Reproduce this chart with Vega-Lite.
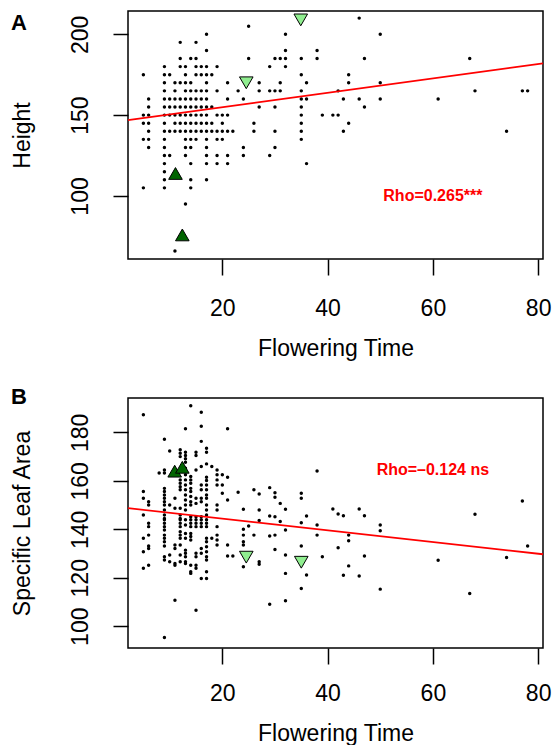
{
  "$schema": "https://vega.github.io/schema/vega-lite/v6.json",
  "padding": {"left": 10, "top": 10, "right": 0, "bottom": 0},
  "config": {
    "font": "Liberation Sans",
    "view": {"stroke": "black", "strokeWidth": 1.5},
    "axis": {"labelColor": "black", "titleColor": "black", "tickColor": "black", "titleFontWeight": "normal", "grid": false, "domain": false, "tickWidth": 1.5, "labelFlush": false, "labelFontSize": 23, "titleFontSize": 23}
  },
  "datasets": {
    "ptsA": [
      {"ft":25,"h":205},
      {"ft":17,"h":200},{"ft":32,"h":200},
      {"ft":12,"h":195},{"ft":15,"h":195},
      {"ft":17,"h":190},{"ft":32,"h":190},{"ft":38,"h":190},
      {"ft":12,"h":185},{"ft":14,"h":185},{"ft":15,"h":185},{"ft":25,"h":185},{"ft":30,"h":185},{"ft":31,"h":185},{"ft":32,"h":185},{"ft":35,"h":185},{"ft":38,"h":185},
      {"ft":9,"h":180},{"ft":12,"h":180},{"ft":13,"h":180},{"ft":15,"h":180},{"ft":16,"h":180},{"ft":17,"h":180},{"ft":19,"h":180},{"ft":29,"h":180},{"ft":32,"h":180},
      {"ft":5,"h":175},{"ft":9,"h":175},{"ft":10,"h":175},{"ft":13,"h":175},{"ft":15,"h":175},{"ft":16,"h":175},{"ft":17,"h":175},{"ft":18,"h":175},{"ft":35,"h":175},
      {"ft":9,"h":170},{"ft":11,"h":170},{"ft":12,"h":170},{"ft":13,"h":170},{"ft":14,"h":170},{"ft":17,"h":170},{"ft":21,"h":170},{"ft":27,"h":170},{"ft":31,"h":170},{"ft":36,"h":170},
      {"ft":9,"h":165},{"ft":11,"h":165},{"ft":13,"h":165},{"ft":14,"h":165},{"ft":15,"h":165},{"ft":16,"h":165},{"ft":17,"h":165},{"ft":19,"h":165},{"ft":23,"h":165},{"ft":27,"h":165},{"ft":29,"h":165},{"ft":30,"h":165},{"ft":31,"h":165},{"ft":35,"h":165},
      {"ft":6,"h":160},{"ft":9,"h":160},{"ft":10,"h":160},{"ft":11,"h":160},{"ft":12,"h":160},{"ft":13,"h":160},{"ft":14,"h":160},{"ft":15,"h":160},{"ft":16,"h":160},{"ft":17,"h":160},{"ft":21,"h":160},{"ft":24,"h":160},{"ft":35,"h":160},{"ft":36,"h":160},
      {"ft":6,"h":155},{"ft":9,"h":155},{"ft":10,"h":155},{"ft":11,"h":155},{"ft":12,"h":155},{"ft":13,"h":155},{"ft":14,"h":155},{"ft":15,"h":155},{"ft":16,"h":155},{"ft":17,"h":155},{"ft":18,"h":155},{"ft":27,"h":155},{"ft":30,"h":155},{"ft":35,"h":155},
      {"ft":5,"h":150},{"ft":6,"h":150},{"ft":9,"h":150},{"ft":10,"h":150},{"ft":11,"h":150},{"ft":12,"h":150},{"ft":13,"h":150},{"ft":14,"h":150},{"ft":15,"h":150},{"ft":16,"h":150},{"ft":17,"h":150},{"ft":19,"h":150},{"ft":20,"h":150},{"ft":21,"h":150},{"ft":35,"h":150},{"ft":39,"h":150},
      {"ft":5,"h":145},{"ft":6,"h":145},{"ft":9,"h":145},{"ft":11,"h":145},{"ft":12,"h":145},{"ft":13,"h":145},{"ft":14,"h":145},{"ft":15,"h":145},{"ft":16,"h":145},{"ft":17,"h":145},{"ft":18,"h":145},{"ft":20,"h":145},{"ft":26,"h":145},{"ft":35,"h":145},
      {"ft":6,"h":140},{"ft":9,"h":140},{"ft":10,"h":140},{"ft":11,"h":140},{"ft":12,"h":140},{"ft":13,"h":140},{"ft":14,"h":140},{"ft":15,"h":140},{"ft":16,"h":140},{"ft":17,"h":140},{"ft":18,"h":140},{"ft":19,"h":140},{"ft":20,"h":140},{"ft":21,"h":140},{"ft":22,"h":140},{"ft":26,"h":140},{"ft":30,"h":140},{"ft":35,"h":140},
      {"ft":5,"h":135},{"ft":6,"h":135},{"ft":9,"h":135},{"ft":13,"h":135},{"ft":14,"h":135},{"ft":15,"h":135},{"ft":17,"h":135},{"ft":19,"h":135},{"ft":20,"h":135},{"ft":35,"h":135},
      {"ft":6,"h":130},{"ft":9,"h":130},{"ft":13,"h":130},{"ft":14,"h":130},{"ft":17,"h":130},{"ft":24,"h":130},{"ft":30,"h":130},
      {"ft":9,"h":125},{"ft":10,"h":125},{"ft":13,"h":125},{"ft":17,"h":125},{"ft":19,"h":125},{"ft":21,"h":125},{"ft":24,"h":125},{"ft":29,"h":125},
      {"ft":9,"h":120},{"ft":14,"h":120},{"ft":17,"h":120},{"ft":19,"h":120},{"ft":21,"h":120},{"ft":36,"h":120},
      {"ft":9,"h":115},
      {"ft":9,"h":110},{"ft":14,"h":110},{"ft":17,"h":110},
      {"ft":5,"h":105},{"ft":9,"h":105},{"ft":14,"h":105},
      {"ft":13,"h":95},
      {"ft":11,"h":66},
      {"ft":46,"h":210},{"ft":50,"h":200},{"ft":47,"h":185},{"ft":67,"h":185},{"ft":44,"h":175},{"ft":44,"h":170},{"ft":50,"h":170},{"ft":42,"h":165},{"ft":68,"h":165},{"ft":77,"h":165},{"ft":78,"h":165},{"ft":43,"h":160},{"ft":46,"h":160},{"ft":50,"h":160},{"ft":61,"h":160},{"ft":47,"h":155},{"ft":41,"h":150},{"ft":42,"h":150},{"ft":44,"h":145},{"ft":43,"h":140},{"ft":74,"h":140}
    ],
    "ptsB": [
      {"ft":5,"sla":187.3},{"ft":5,"sla":155.6},{"ft":5,"sla":152.8},{"ft":5,"sla":145.9},{"ft":5,"sla":136.3},{"ft":5,"sla":130.7},{"ft":5,"sla":123.9},
      {"ft":6,"sla":151.4},{"ft":6,"sla":150.0},{"ft":6,"sla":142.5},{"ft":6,"sla":141.1},{"ft":6,"sla":137.6},{"ft":6,"sla":133.1},{"ft":6,"sla":132.1},{"ft":6,"sla":125.2},
      {"ft":8,"sla":163.2},
      {"ft":9,"sla":177.2},{"ft":9,"sla":164.5},{"ft":9,"sla":163.2},{"ft":9,"sla":156.9},{"ft":9,"sla":155.6},{"ft":9,"sla":154.2},{"ft":9,"sla":152.8},{"ft":9,"sla":151.4},{"ft":9,"sla":150.0},{"ft":9,"sla":148.0},{"ft":9,"sla":145.9},{"ft":9,"sla":144.5},{"ft":9,"sla":143.9},{"ft":9,"sla":142.5},{"ft":9,"sla":141.1},{"ft":9,"sla":139.7},{"ft":9,"sla":137.6},{"ft":9,"sla":136.3},{"ft":9,"sla":134.9},{"ft":9,"sla":133.1},{"ft":9,"sla":128.7},{"ft":9,"sla":127.3},{"ft":9,"sla":95.3},
      {"ft":10,"sla":172.3},{"ft":10,"sla":150.0},{"ft":10,"sla":129.4},{"ft":10,"sla":126.6},
      {"ft":11,"sla":152.8},{"ft":11,"sla":148.7},{"ft":11,"sla":133.5},{"ft":11,"sla":132.1},{"ft":11,"sla":125.9},{"ft":11,"sla":125.2},{"ft":11,"sla":110.7},
      {"ft":12,"sla":172.8},{"ft":12,"sla":171.4},{"ft":12,"sla":170.0},{"ft":12,"sla":160.4},{"ft":12,"sla":159.0},{"ft":12,"sla":157.6},{"ft":12,"sla":156.3},{"ft":12,"sla":148.7},{"ft":12,"sla":145.9},{"ft":12,"sla":144.5},{"ft":12,"sla":143.9},{"ft":12,"sla":142.5},{"ft":12,"sla":141.1},{"ft":12,"sla":139.0},{"ft":12,"sla":137.6},{"ft":12,"sla":136.3},{"ft":12,"sla":133.5},{"ft":12,"sla":129.4},{"ft":12,"sla":126.6},
      {"ft":13,"sla":181.5},{"ft":13,"sla":171.8},{"ft":13,"sla":170.5},{"ft":13,"sla":169.1},{"ft":13,"sla":167.7},{"ft":13,"sla":165.2},{"ft":13,"sla":162.5},{"ft":13,"sla":160.4},{"ft":13,"sla":158.3},{"ft":13,"sla":156.3},{"ft":13,"sla":154.2},{"ft":13,"sla":152.1},{"ft":13,"sla":150.0},{"ft":13,"sla":148.0},{"ft":13,"sla":143.9},{"ft":13,"sla":141.8},{"ft":13,"sla":138.3},{"ft":13,"sla":136.3},{"ft":13,"sla":131.4},{"ft":13,"sla":130.1},{"ft":13,"sla":128.7},{"ft":13,"sla":126.6},{"ft":13,"sla":125.9},
      {"ft":14,"sla":191.0},{"ft":14,"sla":161.8},{"ft":14,"sla":160.4},{"ft":14,"sla":159.0},{"ft":14,"sla":156.9},{"ft":14,"sla":155.6},{"ft":14,"sla":153.5},{"ft":14,"sla":151.4},{"ft":14,"sla":150.0},{"ft":14,"sla":145.2},{"ft":14,"sla":143.9},{"ft":14,"sla":142.5},{"ft":14,"sla":141.1},{"ft":14,"sla":138.3},{"ft":14,"sla":137.0},{"ft":14,"sla":135.6},{"ft":14,"sla":125.2},{"ft":14,"sla":122.5},{"ft":14,"sla":121.8},
      {"ft":15,"sla":171.8},{"ft":15,"sla":170.5},{"ft":15,"sla":164.5},{"ft":15,"sla":152.8},{"ft":15,"sla":150.7},{"ft":15,"sla":145.2},{"ft":15,"sla":143.9},{"ft":15,"sla":142.5},{"ft":15,"sla":141.1},{"ft":15,"sla":130.1},{"ft":15,"sla":128.7},{"ft":15,"sla":125.2},{"ft":15,"sla":123.9},{"ft":15,"sla":106.6},
      {"ft":16,"sla":188.3},{"ft":16,"sla":182.5},{"ft":16,"sla":176.3},{"ft":16,"sla":165.9},{"ft":16,"sla":158.3},{"ft":16,"sla":156.3},{"ft":16,"sla":152.8},{"ft":16,"sla":151.4},{"ft":16,"sla":145.2},{"ft":16,"sla":143.9},{"ft":16,"sla":142.5},{"ft":16,"sla":141.1},{"ft":16,"sla":132.1},{"ft":16,"sla":130.1},{"ft":16,"sla":119.7},
      {"ft":17,"sla":173.5},{"ft":17,"sla":171.8},{"ft":17,"sla":167.0},{"ft":17,"sla":161.5},{"ft":17,"sla":160.1},{"ft":17,"sla":158.3},{"ft":17,"sla":156.3},{"ft":17,"sla":154.2},{"ft":17,"sla":152.8},{"ft":17,"sla":150.0},{"ft":17,"sla":148.0},{"ft":17,"sla":145.9},{"ft":17,"sla":143.9},{"ft":17,"sla":142.5},{"ft":17,"sla":141.1},{"ft":17,"sla":136.3},{"ft":17,"sla":134.9},{"ft":17,"sla":132.8},{"ft":17,"sla":130.7},{"ft":17,"sla":128.7},{"ft":17,"sla":127.3},{"ft":17,"sla":122.5},{"ft":17,"sla":119.7},
      {"ft":18,"sla":165.9},{"ft":18,"sla":136.3},
      {"ft":19,"sla":164.5},{"ft":19,"sla":162.5},{"ft":19,"sla":160.4},{"ft":19,"sla":158.3},{"ft":19,"sla":150.0},{"ft":19,"sla":148.0},{"ft":19,"sla":141.1},{"ft":19,"sla":137.6},{"ft":19,"sla":135.6},{"ft":19,"sla":133.5},
      {"ft":20,"sla":162.5},{"ft":20,"sla":158.3},{"ft":20,"sla":154.9},
      {"ft":21,"sla":181.5},{"ft":21,"sla":161.5},{"ft":21,"sla":152.1},{"ft":21,"sla":133.5},{"ft":21,"sla":129.0},
      {"ft":22,"sla":129.0},
      {"ft":23,"sla":155.3},
      {"ft":24,"sla":148.3},{"ft":24,"sla":140.0},{"ft":24,"sla":137.6},{"ft":24,"sla":134.9},{"ft":24,"sla":133.5},{"ft":24,"sla":124.5},
      {"ft":25,"sla":141.4},
      {"ft":26,"sla":156.3},{"ft":26,"sla":137.6},
      {"ft":27,"sla":154.6},{"ft":27,"sla":148.0},{"ft":27,"sla":143.6},{"ft":27,"sla":126.6},{"ft":27,"sla":125.6},
      {"ft":29,"sla":157.2},{"ft":29,"sla":145.5},{"ft":29,"sla":137.2},{"ft":29,"sla":109.1},
      {"ft":30,"sla":155.1},{"ft":30,"sla":153.2},{"ft":30,"sla":145.2},{"ft":30,"sla":137.6},{"ft":30,"sla":131.7},
      {"ft":31,"sla":150.7},{"ft":31,"sla":143.2},
      {"ft":32,"sla":148.3},{"ft":32,"sla":139.7},{"ft":32,"sla":129.4},{"ft":32,"sla":121.8},{"ft":32,"sla":110.5},
      {"ft":35,"sla":154.9},{"ft":35,"sla":152.8},{"ft":35,"sla":142.7},{"ft":35,"sla":133.1},{"ft":35,"sla":115.6},
      {"ft":36,"sla":145.5},{"ft":36,"sla":121.1},
      {"ft":38,"sla":164.1},{"ft":38,"sla":141.8},{"ft":38,"sla":137.6},
      {"ft":39,"sla":128.7},
      {"ft":41,"sla":148.4},{"ft":42,"sla":146.3},{"ft":43,"sla":145.6},{"ft":46,"sla":148.4},{"ft":47,"sla":145.6},{"ft":50,"sla":141.8},{"ft":68,"sla":146.2},{"ft":77,"sla":151.7},
      {"ft":50,"sla":139.4},{"ft":44,"sla":137.6},{"ft":44,"sla":135.3},{"ft":42,"sla":132.4},{"ft":47,"sla":129.0},{"ft":44,"sla":124.9},{"ft":43,"sla":121.0},{"ft":46,"sla":120.7},{"ft":50,"sla":115.3},{"ft":61,"sla":127.2},{"ft":67,"sla":113.5},{"ft":74,"sla":128.4},{"ft":78,"sla":133.1}
    ],
    "lineA": [{"ft":2.08,"h":146.9},{"ft":80.92,"h":182}],
    "lineB": [{"ft":2.08,"sla":148.7},{"ft":80.92,"sla":129.7}],
    "triA": [{"ft":11.1,"h":113.9,"dir":"up"},{"ft":12.4,"h":75.9,"dir":"up"},{"ft":24.55,"h":170,"dir":"down"},{"ft":34.9,"h":208.9,"dir":"down"}],
    "triB": [{"ft":10.95,"sla":164,"dir":"up"},{"ft":12.4,"sla":165.6,"dir":"up"},{"ft":24.55,"sla":128.5,"dir":"down"},{"ft":35,"sla":126.4,"dir":"down"}],
    "rhoA": [{"ft":60,"h":100,"label":"Rho=0.265***"}],
    "rhoB": [{"ft":60,"sla":164.5,"label":"Rho=–0.124 ns"}]
  },
  "vconcat": [
    {
      "width": 415,
      "height": 248,
      "title": {"text": "A", "anchor": "start", "frame": "bounds", "fontSize": 22, "fontWeight": "bold", "color": "black", "offset": -24},
      "layer": [
        {
          "data": {"name": "ptsA"},
          "mark": {"type": "circle", "size": 12, "color": "black", "opacity": 1},
          "encoding": {
            "x": {"field": "ft", "type": "quantitative", "scale": {"domain": [2.08, 80.92], "nice": false, "zero": false},
                  "axis": {"values": [20, 40, 60, 80], "title": "Flowering Time", "tickSize": 16, "labelPadding": 22, "titlePadding": 17}},
            "y": {"field": "h", "type": "quantitative", "scale": {"domain": [61, 214.4], "nice": false, "zero": false},
                  "axis": {"values": [100, 150, 200], "title": "Height", "tickSize": 15, "labelAngle": -90, "labelAlign": "center", "labelBaseline": "alphabetic", "labelPadding": 26, "titlePadding": 35}}
          }
        },
        {
          "data": {"name": "lineA"},
          "mark": {"type": "line", "color": "#ff0000", "strokeWidth": 1.8},
          "encoding": {"x": {"field": "ft", "type": "quantitative"}, "y": {"field": "h", "type": "quantitative"}}
        },
        {
          "data": {"name": "triA"},
          "mark": {"type": "point", "filled": true, "size": 185, "stroke": "black", "strokeWidth": 1, "opacity": 1},
          "encoding": {
            "x": {"field": "ft", "type": "quantitative"},
            "y": {"field": "h", "type": "quantitative"},
            "shape": {"field": "dir", "type": "nominal", "scale": {"domain": ["up", "down"], "range": ["triangle-up", "triangle-down"]}, "legend": null},
            "fill": {"field": "dir", "type": "nominal", "scale": {"domain": ["up", "down"], "range": ["#006400", "#90ee90"]}, "legend": null}
          }
        },
        {
          "data": {"name": "rhoA"},
          "mark": {"type": "text", "color": "#ff0000", "fontWeight": "bold", "fontSize": 16},
          "encoding": {"x": {"field": "ft", "type": "quantitative"}, "y": {"field": "h", "type": "quantitative"}, "text": {"field": "label"}}
        }
      ]
    },
    {
      "width": 415,
      "height": 250,
      "title": {"text": "B", "anchor": "start", "frame": "bounds", "fontSize": 22, "fontWeight": "bold", "color": "black", "offset": -11},
      "layer": [
        {
          "data": {"name": "ptsB"},
          "mark": {"type": "circle", "size": 12, "color": "black", "opacity": 1},
          "encoding": {
            "x": {"field": "ft", "type": "quantitative", "scale": {"domain": [2.08, 80.92], "nice": false, "zero": false},
                  "axis": {"values": [20, 40, 60, 80], "title": "Flowering Time", "tickSize": 16, "labelPadding": 18, "titlePadding": 17}},
            "y": {"field": "sla", "type": "quantitative", "scale": {"domain": [91, 194.2], "nice": false, "zero": false},
                  "axis": {"values": [100, 120, 140, 160, 180], "title": "Specific Leaf Area", "tickSize": 15, "labelAngle": -90, "labelAlign": "center", "labelBaseline": "alphabetic", "labelPadding": 26, "titlePadding": 35}}
          }
        },
        {
          "data": {"name": "lineB"},
          "mark": {"type": "line", "color": "#ff0000", "strokeWidth": 1.8},
          "encoding": {"x": {"field": "ft", "type": "quantitative"}, "y": {"field": "sla", "type": "quantitative"}}
        },
        {
          "data": {"name": "triB"},
          "mark": {"type": "point", "filled": true, "size": 185, "stroke": "black", "strokeWidth": 1, "opacity": 1},
          "encoding": {
            "x": {"field": "ft", "type": "quantitative"},
            "y": {"field": "sla", "type": "quantitative"},
            "shape": {"field": "dir", "type": "nominal", "scale": {"domain": ["up", "down"], "range": ["triangle-up", "triangle-down"]}, "legend": null},
            "fill": {"field": "dir", "type": "nominal", "scale": {"domain": ["up", "down"], "range": ["#006400", "#90ee90"]}, "legend": null}
          }
        },
        {
          "data": {"name": "rhoB"},
          "mark": {"type": "text", "color": "#ff0000", "fontWeight": "bold", "fontSize": 16},
          "encoding": {"x": {"field": "ft", "type": "quantitative"}, "y": {"field": "sla", "type": "quantitative"}, "text": {"field": "label"}}
        }
      ]
    }
  ],
  "bounds": "flush",
  "spacing": 139
}
